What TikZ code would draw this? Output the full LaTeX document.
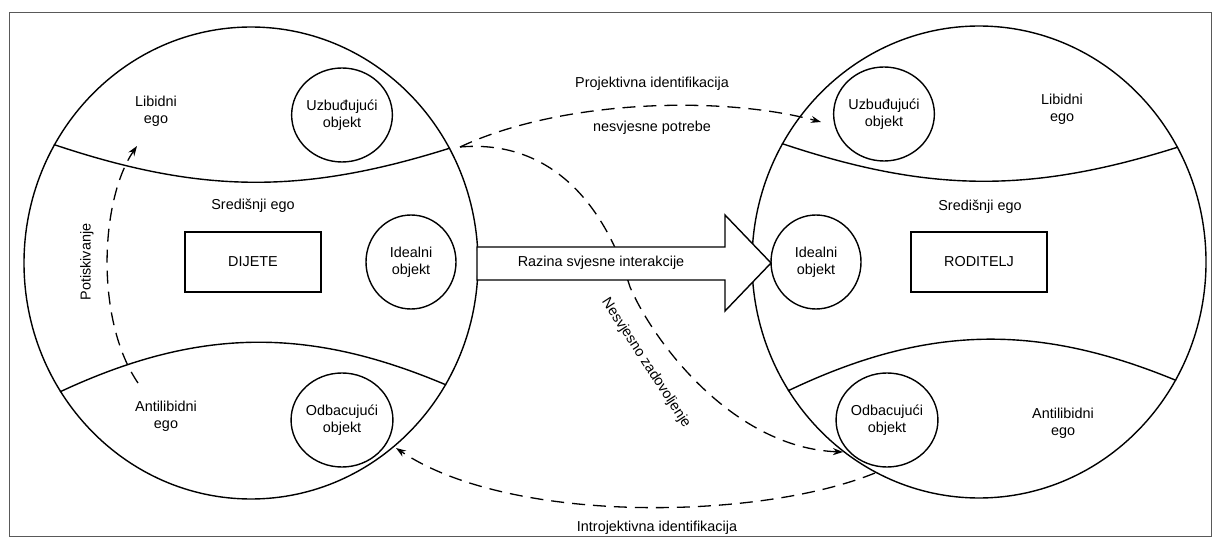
\documentclass[tikz,border=0pt]{standalone}
\usepackage{fontspec}
\setmainfont{Liberation Sans}
\usetikzlibrary{positioning, arrows.meta, calc, shapes.geometric}
\tikzstyle{ego} = [ellipse, draw, line width=0.7pt, minimum width=227pt, minimum height=236pt, inner sep=0pt]
\tikzstyle{objekt} = [ellipse, draw, line width=0.7pt, minimum width=45pt, minimum height=47pt, inner sep=0pt, align=center]
\tikzstyle{osoba} = [rectangle, draw, line width=0.7pt, minimum width=68pt, minimum height=30pt]
\tikzstyle{granica} = [line width=0.7pt]
\tikzstyle{arrow_dash} = [line width=0.65pt, dash pattern=on 6.5pt off 4pt, -{Stealth[length=5pt,width=3.5pt]}]

\begin{document}
\begin{tikzpicture}[x=0.5pt, y=-0.5pt, font=\fontsize{7.2pt}{8.6pt}\selectfont]
        \useasboundingbox (0,0) rectangle (1213,539);
        \draw[line width=0.5pt, black!65] (9,13) rectangle (1211,536);

        % dijete
        \node (dijete_ego) [ego] at (251,263) {};
        \draw[granica] (dijete_ego.149) to[bend right=18] (dijete_ego.30);
        \draw[granica] (dijete_ego.214) to[bend left=24] (dijete_ego.328);
        \node (dijete_uzb) [objekt] at (342,115) {Uzbuđujući\\objekt};
        \node (dijete_ideal) [objekt] at (411,262) {Idealni\\objekt};
        \node (dijete_odb) [objekt] at (342,420) {Odbacujući\\objekt};
        \node (dijete) [osoba] at (253,262) {DIJETE};
        \node (dijete_lib) [align=center] at (156,111) {Libidni\\ego};
        \node (dijete_sred) at (253,206) {Središnji ego};
        \node (dijete_anti) [align=center] at (166,416) {Antilibidni\\ego};

        % roditelj
        \node (roditelj_ego) [ego] at (979,262) {};
        \draw[granica] (roditelj_ego.149) to[bend right=18] (roditelj_ego.30);
        \draw[granica] (roditelj_ego.214) to[bend left=24] (roditelj_ego.329);
        \node (roditelj_uzb) [objekt] at (884,114) {Uzbuđujući\\objekt};
        \node (roditelj_ideal) [objekt] at (816,262) {Idealni\\objekt};
        \node (roditelj_odb) [objekt] at (887,420) {Odbacujući\\objekt};
        \node (roditelj) [osoba] at (979,262) {RODITELJ};
        \node (roditelj_lib) [align=center] at (1062,109) {Libidni\\ego};
        \node (roditelj_sred) at (980,207) {Središnji ego};
        \node (roditelj_anti) [align=center] at (1063,423) {Antilibidni\\ego};

        % dashed connectors
        \coordinate (proj_start) at (460,147);
        \coordinate (proj_end) at (821,122);
        \coordinate (zad_end) at (843,452);
        \coordinate (intro_start) at (875,473);
        \coordinate (intro_end) at (396,448);
        \coordinate (pot_start) at (138,383);
        \coordinate (pot_end) at (137,146);

        \draw [arrow_dash] (proj_start) .. controls (560,100) and (720,95) .. (proj_end);
        \draw [arrow_dash] (proj_start) .. controls (540,140) and (600,190) .. (630,287) .. controls (655,345) and (735,448) .. (zad_end);
        \draw [arrow_dash] (intro_start) .. controls (760,520) and (510,525) .. (intro_end);
        \draw [arrow_dash] (pot_start) .. controls (95,320) and (100,200) .. (pot_end);

        \node (proj_label) at (652,84) {Projektivna identifikacija};
        \node (potrebe_label) at (652,128) {nesvjesne potrebe};
        \node (zad_label) [rotate=-57, inner sep=1pt] at (646,363) {Nesvjesno zadovoljenje};
        \node (intro_label) at (657,528) {Introjektivna identifikacija};
        \node (pot_label) [rotate=90] at (87,262) {Potiskivanje};

        % razina svjesne interakcije
        \draw[granica, fill=white] (477,247) -- (725,247) -- (725,215) -- (771,263) -- (725,311) -- (725,280) -- (477,280) -- cycle;
        \node (svjesno) at (601,263) {Razina svjesne interakcije};

\end{tikzpicture}
\end{document}
